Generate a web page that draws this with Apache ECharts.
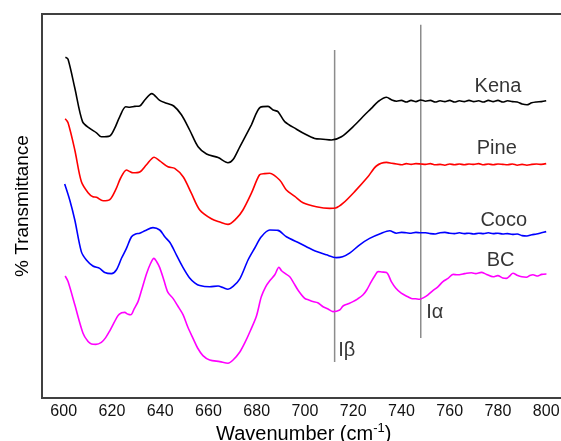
<!DOCTYPE html>
<html>
<head>
<meta charset="utf-8">
<script src="https://cdn.jsdelivr.net/npm/echarts@6/dist/echarts.min.js"></script>
<style>
  html, body { margin: 0; padding: 0; background: #fff; }
  #chart { width: 561px; height: 441px; }
</style>
</head>
<body>
<div id="chart"></div>
<script>
// FTIR spectra (offset for clarity), wavenumber in cm-1 vs. % transmittance (arbitrary offset units)
const kena = [[600.7,85.2],[601.8,84.7],[604.6,77.5],[607.8,69.1],[610.8,67.4],[613.6,66.3],[615.6,65.3],[619.1,65.5],[621.1,67.4],[623.2,70.3],[625.7,72.8],[627.4,72.7],[629.4,72.9],[631.5,73.0],[633.6,74.5],[636.5,76.1],[639.8,74.4],[642.6,73.7],[645.6,73.0],[648.8,70.8],[652.2,67.0],[655.7,62.8],[659.2,61.0],[664.0,60.1],[668.1,58.8],[670.2,59.6],[673.0,62.8],[677.8,68.3],[681.5,72.7],[684.7,72.9],[686.8,72.0],[688.8,71.6],[691.6,69.1],[696.5,67.2],[700.6,65.8],[704.0,64.9],[707.5,64.7],[711.0,64.5],[715.1,65.3],[719.9,67.8],[724.8,70.8],[727.5,72.4],[730.3,74.1],[733.8,75.2],[736,74.5],[738,74.2],[740,74.4],[742,74.0],[744,74.4],[746,74.1],[748,74.5],[750,74.2],[752,74.4],[754,74.0],[756,74.3],[758,74.1],[760,74.4],[762,74.0],[764,74.3],[766,74.1],[768,74.4],[770,74.1],[772,74.3],[774,74.0],[776,74.4],[778,74.1],[780,74.4],[782,74.0],[784,74.3],[786,74.1],[788,74.0],[790,73.5],[792,73.3],[794,73.8],[796,74.0],[798,74.1],[800,74.3]];

const pine = [[600.6,69.8],[601.8,68.8],[604.6,62.0],[607.3,54.1],[610.1,51.3],[612.1,50.3],[613.6,50.2],[616.3,49.3],[619.1,49.6],[621.8,52.4],[623.6,55.0],[626.0,57.0],[627.4,56.6],[628.7,56.3],[631.5,56.5],[634.3,58.3],[637.5,60.2],[639.8,59.3],[643.2,57.8],[646.0,57.4],[649.5,55.3],[652.9,51.2],[656.4,47.0],[661.2,44.8],[664.7,44.0],[668.1,43.4],[671.6,44.9],[674.3,47.0],[677.8,51.2],[681.2,55.8],[683.3,56.1],[685.4,56.2],[689.5,54.5],[692.3,52.0],[695.8,50.4],[699.2,48.8],[704.7,47.8],[710.3,47.4],[712.7,47.5],[715.8,48.7],[720.6,51.6],[726.1,55.3],[729.6,58.0],[733.8,58.9],[736,58.7],[738,58.5],[740,58.3],[742,58.6],[744,58.4],[746,58.6],[748,58.5],[750,58.4],[752,58.6],[754,58.3],[756,58.4],[758,58.2],[760,58.5],[762,58.3],[764,58.5],[766,58.3],[768,58.5],[770,58.4],[772,58.6],[774,58.3],[776,58.5],[778,58.3],[780,58.5],[782,58.4],[784,58.3],[786,58.5],[788,58.2],[790,58.4],[792,58.2],[794,58.4],[796,58.5],[798,58.4],[800,58.6]];

const coco = [[600.4,53.5],[602.5,49.5],[604.6,44.5],[607.3,36.6],[609.4,34.5],[612.1,33.0],[614.9,32.4],[617.0,31.4],[619.8,31.1],[621.8,32.0],[624.0,35.0],[626.0,37.4],[628.1,40.3],[629.8,41.0],[631.5,41.2],[633.6,41.8],[637.0,42.6],[639.8,42.0],[641.9,40.3],[644.1,38.8],[646.7,35.8],[649.3,32.8],[652.2,30.0],[654.3,28.8],[656.4,28.1],[660.5,27.8],[664.0,28.0],[666.0,27.6],[668.1,27.2],[670.2,27.9],[673.0,29.8],[676.4,34.5],[679.2,37.5],[681.9,40.3],[685.4,42.0],[688.8,41.9],[692.3,40.3],[697.8,38.7],[703.3,37.0],[708.9,35.8],[713.0,35.1],[715.6,35.3],[718.5,36.2],[722.7,38.3],[726.8,39.9],[731.7,41.2],[735.1,41.8],[737.9,41.2],[740,41.4],[742,41.3],[744,41.2],[746,41.4],[748,41.3],[750,41.3],[752,41.1],[754,41.0],[756,41.3],[758,41.4],[760,41.2],[762,41.1],[764,41.3],[766,41.1],[768,41.2],[770,41.0],[772,41.2],[774,41.1],[776,41.3],[778,41.1],[780,41.2],[782,41.0],[784,41.1],[786,40.9],[788,41.0],[790,40.6],[792,40.5],[794,40.8],[796,41.0],[798,41.3],[800,41.6]];

const bc = [[600.6,30.5],[601.8,29.1],[604.6,23.3],[608.0,16.2],[610.1,14.1],[611.5,13.5],[613.3,13.4],[615.6,13.9],[617.4,15.1],[619.1,16.8],[622.5,20.6],[624.0,21.3],[625.3,21.4],[626.5,21.0],[627.8,20.8],[629.2,22.3],[630.8,24.1],[632.3,27.0],[634.3,31.0],[635.9,33.5],[637.4,34.9],[638.6,34.0],[639.8,32.6],[641.5,29.5],[643.2,26.4],[645.3,24.9],[647.3,23.0],[649.5,20.8],[651.4,17.8],[653.6,14.9],[655.5,12.5],[657.7,10.6],[660.5,9.5],[664.7,9.1],[668.1,8.7],[670.2,9.5],[673.0,11.5],[675.0,13.7],[677.5,17.0],[679.9,20.5],[681.9,25.3],[683.7,27.8],[685.4,29.3],[687.5,30.8],[689.2,32.7],[690.3,31.8],[691.6,31.2],[693.7,30.3],[695.3,28.8],[697.1,27.0],[699.9,24.9],[701.6,24.5],[703.3,24.1],[705.3,23.8],[707.5,22.8],[709.4,22.3],[711.6,21.6],[714.4,22.0],[715.8,23.0],[717.7,23.5],[719.9,24.1],[721.9,24.8],[724.1,25.8],[725.6,27.0],[727.5,29.1],[728.9,30.5],[730.3,31.6],[731.8,31.5],[733.8,31.4],[735.8,29.1],[737.6,27.5],[739.9,26.2],[742.7,25.3],[744.1,24.9],[745.9,24.8],[747.6,24.7],[749.2,25.1],[751.0,25.8],[752.9,26.8],[755.1,27.8],[757.2,29.1],[759.3,29.9],[761.4,30.9],[763.3,30.8],[765.5,31.0],[767.0,31.2],[769.0,31.3],[770.8,31.1],[773.1,31.4],[775.3,30.9],[778.0,30.3],[779.9,30.6],[782.0,30.0],[783.5,29.9],[784.9,30.5],[786.2,31.2],[788.2,30.6],[789.9,30.3],[791.8,30.2],[793.2,30.6],[794.5,30.8],[796.5,30.5],[798.1,30.9],[800.1,31.0]];

const seriesNames = ['Kena', 'Pine', 'Coco', 'BC'];
const seriesColors = ['#000000', '#ff0000', '#0000ff', '#ff00ff'];
const nameLabelPos = [[780.0, 77.8], [779.5, 62.4], [782.4, 44.3], [781.1, 34.5]];

// Cellulose I-beta / I-alpha marker bands
const bandNames = ['I\u03b2', 'I\u03b1'];
const bandWavenumbers = [712.3, 748.0];
const bandRanges = [[9.0, 87.0], [15.0, 93.3]];
const bandLabelPos = [[717.3, 12.0], [753.8, 21.3]];

const xTicks = [600, 620, 640, 660, 680, 700, 720, 740, 760, 780, 800];

const FONT = '"Liberation Sans", Arial, sans-serif';
const spectra = [kena, pine, coco, bc];

const series = [];
spectra.forEach((d, i) => {
  series.push({
    name: seriesNames[i], type: 'line', data: d, showSymbol: false, smooth: 0.3,
    lineStyle: { color: seriesColors[i], width: 1.6 }, silent: true, z: 3
  });
});
bandWavenumbers.forEach((w, i) => {
  series.push({
    type: 'line', data: [[w, bandRanges[i][0]], [w, bandRanges[i][1]]], showSymbol: false,
    lineStyle: { color: '#8c8c8c', width: 1.5 }, silent: true, z: 2
  });
});
series.push({
  type: 'scatter', symbolSize: 1, itemStyle: { color: 'transparent' }, silent: true,
  data: seriesNames.map((n, i) => [nameLabelPos[i][0], nameLabelPos[i][1], n])
    .concat(bandNames.map((n, i) => [bandLabelPos[i][0], bandLabelPos[i][1], n])),
  label: {
    show: true, position: 'inside', formatter: p => p.data[2],
    fontFamily: FONT, fontSize: 20, color: '#000'
  }
});

const chart = echarts.init(document.getElementById('chart'), null, { renderer: 'canvas' });
chart.setOption({
  animation: false,
  backgroundColor: '#fff',
  grid: {
    left: 42, top: 14, width: 523.5, height: 384,
    outerBoundsMode: 'none', containLabel: false,
    show: true, borderColor: '#404040', borderWidth: 2, backgroundColor: 'transparent'
  },
  xAxis: {
    type: 'value', min: 591, max: 808,
    axisLine: { show: true, lineStyle: { color: '#404040', width: 2 } },
    axisTick: { show: false },
    splitLine: { show: false },
    axisLabel: { customValues: xTicks, fontFamily: FONT, fontSize: 16, color: '#111', margin: 6 },
    name: '{base|Wavenumber (cm}{sup|-1}{base|)}', nameLocation: 'middle', nameGap: 24,
    nameMoveOverlap: false,
    nameTextStyle: {
      fontFamily: FONT, fontSize: 20, color: '#000',
      rich: {
        base: { fontFamily: FONT, fontSize: 20, color: '#000', lineHeight: 22, verticalAlign: 'bottom' },
        sup: { fontFamily: FONT, fontSize: 13, color: '#000', lineHeight: 13, verticalAlign: 'top' }
      }
    }
  },
  yAxis: {
    type: 'value', min: 0, max: 96,
    axisLine: { show: true, lineStyle: { color: '#404040', width: 2 } },
    axisTick: { show: false }, axisLabel: { show: false }, splitLine: { show: false },
    name: '% Transmittance', nameLocation: 'middle', nameGap: 10, nameRotate: 90,
    nameMoveOverlap: false,
    nameTextStyle: { fontFamily: FONT, fontSize: 19, color: '#000' }
  },
  series: series
});
</script>
</body>
</html>
